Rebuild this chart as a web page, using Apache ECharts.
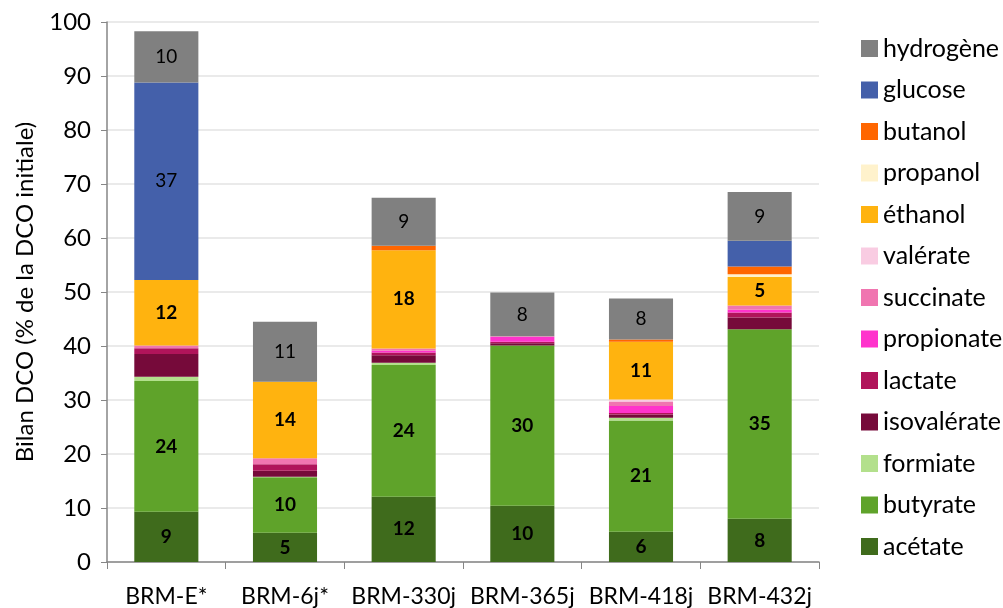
<!DOCTYPE html>
<html><head><meta charset="utf-8">
<script src="https://cdn.jsdelivr.net/npm/echarts@6/dist/echarts.min.js"></script>
<style>html,body{margin:0;padding:0;background:#fff}#c{width:1003px;height:608px}</style>
</head><body><div id="c"></div>
<script>
var categories = ['BRM-E*','BRM-6j*','BRM-330j','BRM-365j','BRM-418j','BRM-432j'];
var acetate     = [9.3, 5.4, 12.1, 10.4, 5.6, 8.0];
var butyrate    = [24.2, 10.3, 24.4, 29.7, 20.6, 35.1];
var formiate    = [0.8, 0.1, 0.4, 0, 0.5, 0];
var isovalerate = [4.2, 1.1, 1.4, 0.4, 0.6, 2.2];
var lactate     = [1.1, 1.2, 0.5, 0.3, 0.3, 0.9];
var propionate  = [0, 0, 0.3, 0.9, 1.3, 0.5];
var succinate   = [0.5, 1.1, 0.45, 0.1, 0.8, 0.8];
var valerate    = [0, 0, 0, 0, 0.4, 0];
var ethanol     = [12.1, 14.2, 18.2, 0, 10.7, 5.3];
var propanol    = [0, 0, 0, 0, 0, 0.5];
var butanol     = [0, 0, 0.8, 0, 0.4, 1.4];
var glucose     = [36.6, 0, 0, 0, 0, 4.8];
var hydrogene   = [9.5, 11.1, 8.9, 8.1, 7.6, 9.0];
var yTicks = [0,10,20,30,40,50,60,70,80,90,100];

var FONT = 'Lato, "Open Sans", sans-serif';
var seriesDefs = [
  {name:'acétate', data:acetate, color:'#3F6B1C', label:true, bold:true},
  {name:'butyrate', data:butyrate, color:'#5FA32A', label:true, bold:true},
  {name:'formiate', data:formiate, color:'#B3E08C'},
  {name:'isovalérate', data:isovalerate, color:'#760A3A'},
  {name:'lactate', data:lactate, color:'#B0145A'},
  {name:'propionate', data:propionate, color:'#FF33CC'},
  {name:'succinate', data:succinate, color:'#F075B0'},
  {name:'valérate', data:valerate, color:'#F9CCE2'},
  {name:'éthanol', data:ethanol, color:'#FFB30F', label:true, bold:true},
  {name:'propanol', data:propanol, color:'#FFF2CC'},
  {name:'butanol', data:butanol, color:'#FF6600'},
  {name:'glucose', data:glucose, color:'#4460AA', label:true, bold:false},
  {name:'hydrogène', data:hydrogene, color:'#808080', label:true, bold:false}
];
var series = seriesDefs.map(function(d){
  return {
    name:d.name, type:'bar', stack:'t', data:d.data, barCategoryGap:'46%',
    itemStyle:{color:d.color},
    label:{show:!!d.label, position:'inside', color:'#000', fontFamily:FONT, fontSize:19,
      fontWeight:d.bold?'bold':'normal',
      formatter:function(p){return p.value>=5?String(Math.round(p.value)):'';}},
    emphasis:{disabled:true}
  };
});
var legendOrder = seriesDefs.map(function(d){return d.name;}).reverse();
var chart = echarts.init(document.getElementById('c'), null, {renderer:'canvas'});
chart.setOption({
  animation:false,
  textStyle:{fontFamily:FONT},
  grid:{left:107, right:184, top:22, bottom:45, containLabel:false},
  legend:{orient:'vertical', left:856, top:31, itemWidth:17, itemHeight:17, itemGap:16.5,
    icon:'rect', data:legendOrder,
    textStyle:{fontFamily:FONT, fontSize:25, color:'#000'}},
  xAxis:{type:'category', data:categories,
    axisLine:{lineStyle:{color:'#868686', width:1.5}},
    axisTick:{show:true, interval:0, length:7, lineStyle:{color:'#868686'}},
    axisLabel:{color:'#000', fontSize:23, fontFamily:FONT, margin:23, interval:0}},
  yAxis:{type:'value', min:yTicks[0], max:yTicks[yTicks.length-1], interval:10,
    name:'Bilan DCO (% de la DCO initiale)', nameLocation:'middle', nameGap:70,
    nameTextStyle:{fontSize:24, color:'#000', fontFamily:FONT},
    axisLine:{show:true, lineStyle:{color:'#868686', width:1.5}},
    axisTick:{show:true, length:6, lineStyle:{color:'#868686'}},
    axisLabel:{color:'#000', fontSize:24, fontFamily:FONT, margin:16},
    splitLine:{lineStyle:{color:'#E3E3E3', width:1.5}}},
  series:series
});
</script></body></html>
